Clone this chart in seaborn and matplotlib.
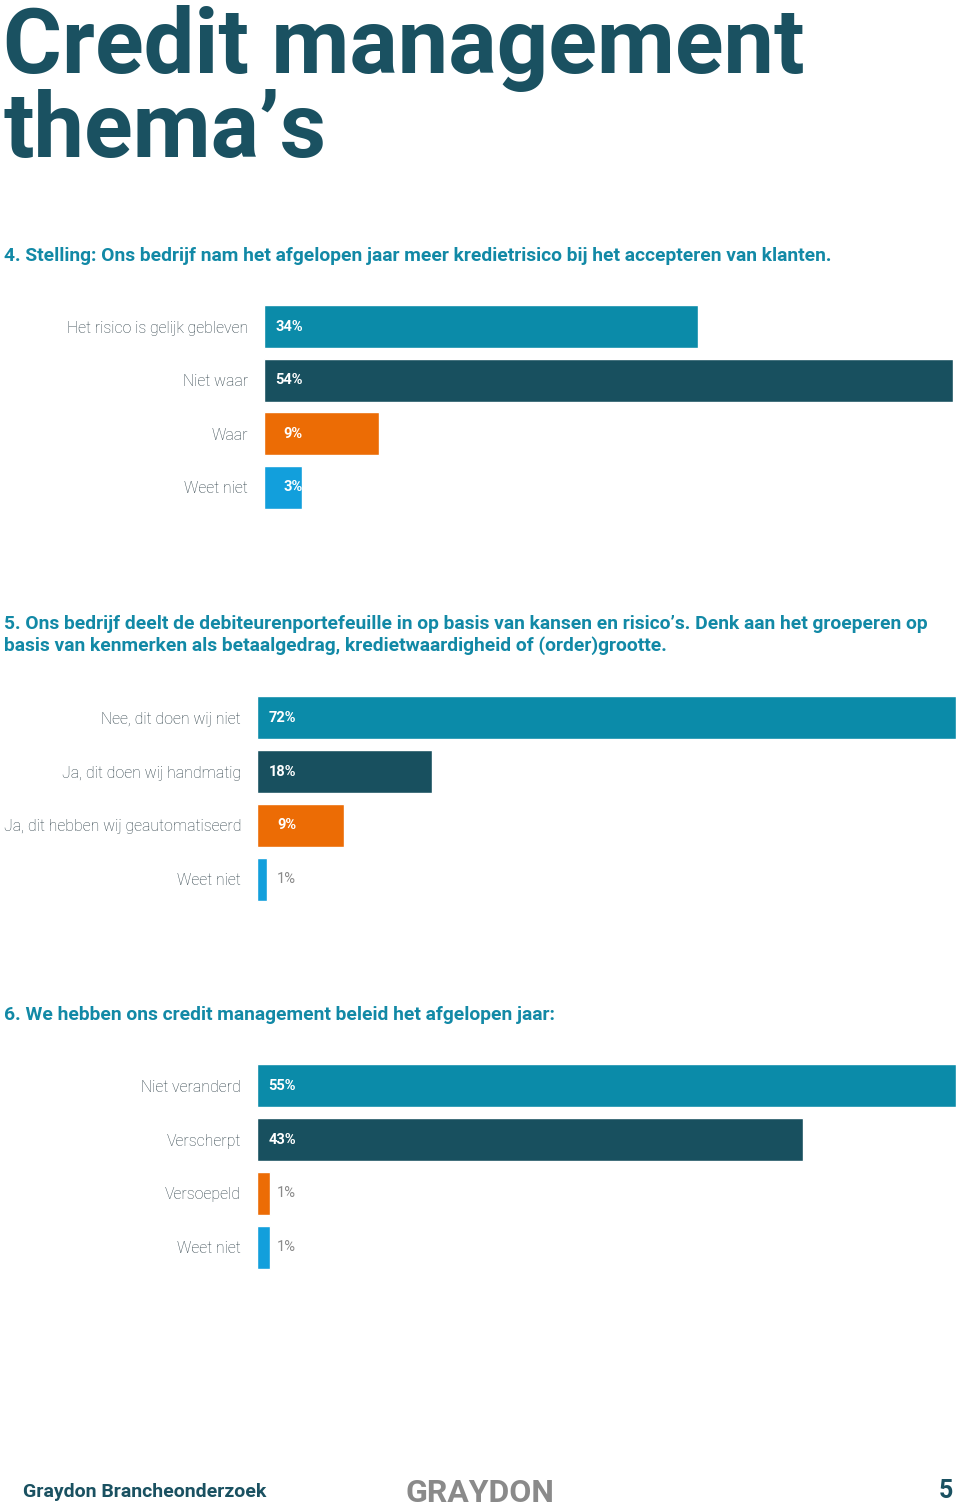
import matplotlib
matplotlib.use("Agg")
import matplotlib.pyplot as plt
import seaborn as sns
import pandas as pd

# ---------------- data ----------------
title_lines = ["Credit management", "thema’s"]

q4_title = "4. Stelling: Ons bedrijf nam het afgelopen jaar meer kredietrisico bij het accepteren van klanten."
q4_categories = ["Het risico is gelijk gebleven", "Niet waar", "Waar", "Weet niet"]
q4_values = [34, 54, 9, 3]

q5_title = ("5. Ons bedrijf deelt de debiteurenportefeuille in op basis van kansen en risico’s. Denk aan het groeperen op\n"
            "basis van kenmerken als betaalgedrag, kredietwaardigheid of (order)grootte.")
q5_categories = ["Nee, dit doen wij niet", "Ja, dit doen wij handmatig",
                 "Ja, dit hebben wij geautomatiseerd", "Weet niet"]
q5_values = [72, 18, 9, 1]

q6_title = "6. We hebben ons credit management beleid het afgelopen jaar:"
q6_categories = ["Niet veranderd", "Verscherpt", "Versoepeld", "Weet niet"]
q6_values = [55, 43, 1, 1]

footer_left = "Graydon Brancheonderzoek"
footer_logo = "GRAYDON"
page_number = "5"

# ---------------- style ----------------
bar_colors = ["#0b8ba9", "#18505f", "#ec6c05", "#129fdc"]
dark_teal = "#1a5161"
heading_color = "#1289a6"
label_color = "#2f4149"
outside_value_color = "#8a8a8a"

sns.set_theme(style="white")
plt.rcParams["font.family"] = ["Roboto", "DejaVu Sans"]

W, H = 960, 1511
fig = plt.figure(figsize=(W / 100, H / 100), dpi=100)
fig.patch.set_facecolor("white")


def fx(x):
    return x / W


def fy(y):
    return 1 - y / H


def px_axes(left, top, right, bottom):
    return fig.add_axes([fx(left), fy(bottom), (right - left) / W, (bottom - top) / H])


def draw_chart(categories, values, left, top, right, bottom):
    ax = px_axes(left, top, right, bottom)
    df = pd.DataFrame({"category": categories, "value": values})
    sns.barplot(data=df, x="value", y="category", hue="category", palette=bar_colors,
                orient="h", legend=False, ax=ax, width=0.8, saturation=1)
    vmax = max(values)
    ax.set_xlim(0, vmax)
    ax.set_xlabel("")
    ax.set_ylabel("")
    ax.set_xticks([])
    for s in ax.spines.values():
        s.set_visible(False)
    ax.tick_params(axis="y", length=0, pad=11.5, labelsize=11.4, labelcolor=label_color)
    for lab in ax.get_yticklabels():
        lab.set_fontweight("light")
    ax.set_facecolor("none")
    for i, v in enumerate(values):
        inside = v >= 2
        ax.annotate(f"{v}%", xy=(0, i), xytext=(39, 0), textcoords="offset pixels",
                    ha="right", va="center", fontsize=10.5,
                    color="white" if inside else outside_value_color,
                    fontweight="bold" if inside else "normal")
    return ax


# ---------------- title ----------------
fig.text(fx(3), fy(157), "\n".join(title_lines), fontsize=65, fontweight="bold", color=dark_teal,
         va="baseline", linespacing=0.95)

# ---------------- charts ----------------
fig.text(fx(4), fy(256), q4_title, fontsize=13.9, fontweight="bold", color=heading_color, va="center")
draw_chart(q4_categories, q4_values, 264, 300, 953, 514)

fig.text(fx(4), fy(635), q5_title, fontsize=13.9, fontweight="bold", color=heading_color, va="center",
         linespacing=1.25)
draw_chart(q5_categories, q5_values, 257, 691, 956, 906)

fig.text(fx(4), fy(1015), q6_title, fontsize=13.9, fontweight="bold", color=heading_color, va="center")
draw_chart(q6_categories, q6_values, 257, 1059, 956, 1274)

# ---------------- footer ----------------
fig.text(fx(23), fy(1492), footer_left, fontsize=14, fontweight="bold", color=dark_teal, va="center")
fig.text(fx(480), fy(1493), footer_logo, fontsize=23, fontweight="bold", color="#8a8a8a",
         va="center", ha="center")
fig.text(fx(953), fy(1491), page_number, fontsize=18, fontweight="bold", color=dark_teal,
         va="center", ha="right")

fig.savefig("out.png", dpi=100, facecolor="white")
